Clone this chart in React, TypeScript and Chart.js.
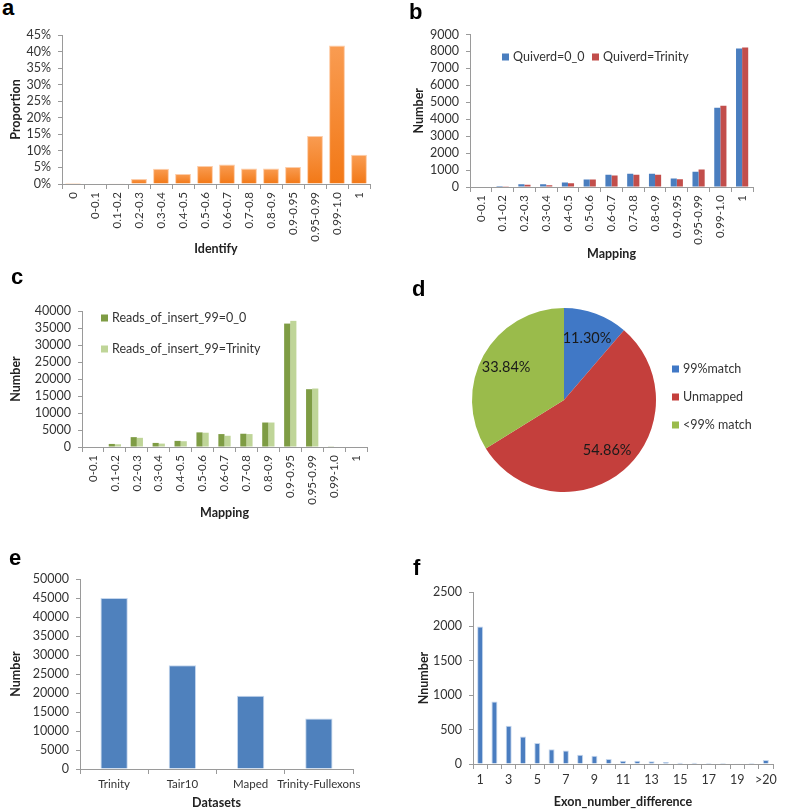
import React, { useEffect, useRef } from 'react';
import { Chart, registerables } from 'chart.js';

Chart.register(...registerables);

// ---------------- data ----------------
const aCategories = ['0', '0-0.1', '0.1-0.2', '0.2-0.3', '0.3-0.4', '0.4-0.5', '0.5-0.6', '0.6-0.7', '0.7-0.8', '0.8-0.9', '0.9-0.95', '0.95-0.99', '0.99-1.0', '1'];
const aProportion = [0.3, 0, 0.2, 1.5, 4.6, 3.0, 5.4, 5.9, 4.7, 4.7, 5.1, 14.5, 41.8, 8.8];

const bCategories = ['0-0.1', '0.1-0.2', '0.2-0.3', '0.3-0.4', '0.4-0.5', '0.5-0.6', '0.6-0.7', '0.7-0.8', '0.8-0.9', '0.9-0.95', '0.95-0.99', '0.99-1.0', '1'];
const bQuiverd00 = [0, 60, 160, 160, 260, 440, 720, 780, 780, 500, 900, 4680, 8180];
const bQuiverdTrinity = [0, 50, 140, 100, 220, 440, 680, 720, 720, 460, 1040, 4790, 8230];

const cCategories = ['0-0.1', '0.1-0.2', '0.2-0.3', '0.3-0.4', '0.4-0.5', '0.5-0.6', '0.6-0.7', '0.7-0.8', '0.8-0.9', '0.9-0.95', '0.95-0.99', '0.99-1.0', '1'];
const cReads00 = [0, 900, 2900, 1200, 1800, 4300, 3800, 3900, 7200, 36300, 17000, 200, 0];
const cReadsTrinity = [0, 800, 2700, 1000, 1700, 4200, 3300, 3800, 7200, 37100, 17200, 150, 0];

const dLabels = ['99%match', 'Unmapped', '<99% match'];
const dValues = [11.30, 54.86, 33.84];

const eCategories = ['Trinity', 'Tair10', 'Maped', 'Trinity-Fullexons'];
const eValues = [45000, 27300, 19300, 13300];

const fCategories = ['1', '2', '3', '4', '5', '6', '7', '8', '9', '10', '11', '12', '13', '14', '15', '16', '17', '18', '19', '20', '>20'];
const fValues = [2000, 910, 555, 400, 304, 215, 195, 135, 120, 72, 48, 48, 39, 30, 19, 19, 14, 14, 10, 14, 58];

// ---------------- style ----------------
const FONT = 'Lato, "Open Sans", sans-serif';
const AXIS = '#9a9a9a';
const TICK = '#333333';
const TICK_SIZE = 12.5;
const XROT_SIZE = 11.5;
const TITLE_SIZE = 12.5;

const boxLegendPlugin = {
  id: 'boxLegend',
  afterDraw(chart: any, _a: any, opts: any) {
    if (!opts || !opts.positions) return;
    const ctx = chart.ctx;
    let items: { text: string; color: string }[];
    if (chart.config.type === 'pie') {
      const ds = chart.data.datasets[0];
      items = chart.data.labels.map((l: string, i: number) => ({ text: l, color: ds.backgroundColor[i] }));
    } else {
      items = chart.data.datasets.map((d: any) => ({ text: d.label, color: d.legendColor || d.backgroundColor }));
    }
    ctx.save();
    ctx.font = `${opts.size || 12}px ${FONT}`;
    ctx.textBaseline = 'middle';
    ctx.textAlign = 'left';
    items.forEach((it, i) => {
      const p = opts.positions[i];
      if (!p) return;
      const box = opts.box || 7;
      ctx.fillStyle = it.color;
      ctx.fillRect(p[0], p[1] - box / 2, box, box);
      ctx.fillStyle = TICK;
      ctx.fillText(it.text, p[0] + box + (opts.gap || 4), p[1]);
    });
    ctx.restore();
  },
};
Chart.register(boxLegendPlugin);

const pieLabelPlugin = {
  id: 'pieLabels',
  afterDatasetsDraw(chart: any) {
    const meta = chart.getDatasetMeta(0);
    const data = chart.data.datasets[0].data;
    const ctx = chart.ctx;
    ctx.save();
    ctx.font = `14.5px ${FONT}`;
    ctx.fillStyle = '#1a1a1a';
    ctx.textAlign = 'center';
    ctx.textBaseline = 'middle';
    meta.data.forEach((arc: any, i: number) => {
      const p = arc.getProps(['x', 'y', 'startAngle', 'endAngle', 'outerRadius'], true);
      const mid = (p.startAngle + p.endAngle) / 2;
      const r = p.outerRadius * 0.72;
      ctx.fillText(Number(data[i]).toFixed(2) + '%', p.x + Math.cos(mid) * r, p.y + Math.sin(mid) * r);
    });
    ctx.restore();
  },
};

interface BarOpts {
  yWidth: number;
  xHeight: number;
  padTop: number;
  padRight: number;
  yMax: number;
  yStep: number;
  yFmt?: (v: number) => string;
  yTitle: string;
  yTitlePad: number;
  xTitle: string;
  xTitlePad: number;
  rotate: boolean;
  xFont?: any;
  xCallback?: (val: any, idx: number) => string;
  legend?: any;
}

function barOptions(p: BarOpts): any {
  const rot = p.rotate ? 90 : 0;
  return {
    responsive: false,
    animation: false,
    layout: { padding: { left: 0, top: p.padTop, right: p.padRight, bottom: 0 } },
    plugins: {
      legend: { display: false },
      tooltip: { enabled: false },
      boxLegend: p.legend || {},
    },
    scales: {
      x: {
        offset: true,
        grid: { display: true, drawOnChartArea: false, drawTicks: true, tickLength: 5, color: AXIS, offset: true },
        border: { display: true, color: AXIS },
        ticks: {
          color: TICK,
          font: p.xFont || { family: FONT, size: p.rotate ? XROT_SIZE : TICK_SIZE },
          maxRotation: rot,
          minRotation: rot,
          autoSkip: false,
          padding: 3,
          ...(p.xCallback ? { callback: p.xCallback } : {}),
        },
        title: {
          display: true,
          text: p.xTitle,
          color: '#222',
          font: { family: FONT, size: TITLE_SIZE, weight: 'bold' },
          padding: { top: 0, bottom: p.xTitlePad },
        },
        afterFit: (s: any) => {
          s.height = p.xHeight;
        },
      },
      y: {
        min: 0,
        max: p.yMax,
        grid: { display: true, drawOnChartArea: false, drawTicks: true, tickLength: 4, color: AXIS },
        border: { display: true, color: AXIS },
        ticks: {
          stepSize: p.yStep,
          autoSkip: false,
          color: TICK,
          font: { family: FONT, size: TICK_SIZE },
          padding: 7,
          callback: (v: any) => (p.yFmt ? p.yFmt(Number(v)) : String(v)),
        },
        title: {
          display: true,
          text: p.yTitle,
          color: '#222',
          font: { family: FONT, size: TITLE_SIZE, weight: 'bold' },
          padding: { top: p.yTitlePad, bottom: 0 },
        },
        afterFit: (s: any) => {
          s.width = p.yWidth;
        },
      },
    },
  };
}

const orangeGradient = (c: any) => {
  const chart = c.chart;
  const ys = chart.scales && chart.scales.y;
  const fallback = '#F68A30';
  if (c.type !== 'data' || !chart.chartArea || !ys) return fallback;
  const top = ys.getPixelForValue(c.parsed.y);
  const base = ys.getPixelForValue(0);
  if (!isFinite(top) || !isFinite(base) || base - top < 1) return fallback;
  const g = chart.ctx.createLinearGradient(0, top, 0, base);
  g.addColorStop(0, '#F99C52');
  g.addColorStop(1, '#F27816');
  return g;
};

// ---------------- configs ----------------
const configA: any = {
  type: 'bar',
  data: {
    labels: aCategories,
    datasets: [
      {
        label: 'Proportion',
        data: aProportion,
        backgroundColor: orangeGradient,
        borderColor: 'rgba(253,200,160,0.9)',
        borderWidth: 1,
        barPercentage: 0.72,
        categoryPercentage: 1,
      },
    ],
  },
  options: barOptions({
    yWidth: 62, xHeight: 76, padTop: 15, padRight: 10,
    yMax: 45, yStep: 5, yFmt: (v) => v + '%',
    yTitle: 'Proportion', yTitlePad: 8,
    xTitle: 'Identify', xTitlePad: 4,
    rotate: true,
  }),
};

const configB: any = {
  type: 'bar',
  data: {
    labels: bCategories,
    datasets: [
      { label: 'Quiverd=0_0', data: bQuiverd00, backgroundColor: '#4A7EBF', barPercentage: 1, categoryPercentage: 0.56 },
      { label: 'Quiverd=Trinity', data: bQuiverdTrinity, backgroundColor: '#C24E4B', barPercentage: 1, categoryPercentage: 0.56 },
    ],
  },
  options: barOptions({
    yWidth: 80, xHeight: 78, padTop: 13, padRight: 27,
    yMax: 9000, yStep: 1000,
    yTitle: 'Number', yTitlePad: 21,
    xTitle: 'Mapping', xTitlePad: 4,
    rotate: true,
    legend: { positions: [[112, 37], [202, 37]], box: 7, gap: 4, size: 12.5 },
  }),
};

const configC: any = {
  type: 'bar',
  data: {
    labels: cCategories,
    datasets: [
      { label: 'Reads_of_insert_99=0_0', data: cReads00, backgroundColor: '#7E9C44', barPercentage: 1, categoryPercentage: 0.56 },
      { label: 'Reads_of_insert_99=Trinity', data: cReadsTrinity, backgroundColor: '#BFD598', barPercentage: 1, categoryPercentage: 0.56 },
    ],
  },
  options: barOptions({
    yWidth: 82, xHeight: 78, padTop: 31, padRight: 18,
    yMax: 40000, yStep: 5000,
    yTitle: 'Number', yTitlePad: 8,
    xTitle: 'Mapping', xTitlePad: 5,
    rotate: true,
    legend: { positions: [[101, 38], [101, 69]], box: 7, gap: 4, size: 12.5 },
  }),
};

const configD: any = {
  type: 'pie',
  data: {
    labels: dLabels,
    datasets: [
      {
        data: dValues,
        backgroundColor: ['#4078C6', '#C43F3C', '#9ABB4B'],
        borderWidth: 0,
      },
    ],
  },
  options: {
    responsive: false,
    animation: false,
    layout: { padding: { left: 52, top: 18, right: 124, bottom: 28 } },
    plugins: {
      legend: { display: false },
      tooltip: { enabled: false },
      boxLegend: { positions: [[252, 79], [252, 107], [252, 135]], box: 7, gap: 4, size: 12.5 },
    },
  },
  plugins: [pieLabelPlugin],
};

const configE: any = {
  type: 'bar',
  data: {
    labels: eCategories,
    datasets: [
      {
        label: 'Number',
        data: eValues,
        backgroundColor: '#4F81BD',
        borderColor: 'rgba(190,210,235,0.9)',
        borderWidth: 1,
        barPercentage: 0.4,
        categoryPercentage: 1,
      },
    ],
  },
  options: barOptions({
    yWidth: 80, xHeight: 41, padTop: 34, padRight: 17,
    yMax: 50000, yStep: 5000,
    yTitle: 'Number', yTitlePad: 8,
    xTitle: 'Datasets', xTitlePad: 0,
    rotate: false,
    xFont: { family: '"Liberation Sans Narrow", Lato, sans-serif', size: 11.5 },
  }),
};

const configF: any = {
  type: 'bar',
  data: {
    labels: fCategories,
    datasets: [
      {
        label: 'Nnumber',
        data: fValues,
        backgroundColor: '#4A7DC0',
        borderColor: 'rgba(190,210,235,0.9)',
        borderWidth: 1,
        barPercentage: 0.42,
        categoryPercentage: 1,
      },
    ],
  },
  options: barOptions({
    yWidth: 78, xHeight: 46, padTop: 32, padRight: 14,
    yMax: 2500, yStep: 500,
    yTitle: 'Nnumber', yTitlePad: 21,
    xTitle: 'Exon_number_difference', xTitlePad: 1,
    rotate: false,
    xCallback: (_v: any, idx: number) => (idx % 2 === 0 ? fCategories[idx] : ''),
  }),
};

// ---------------- components ----------------
function ChartBox(props: { left: number; top: number; width: number; height: number; config: any }) {
  const ref = useRef<HTMLCanvasElement>(null);
  useEffect(() => {
    const chart = new Chart(ref.current as HTMLCanvasElement, props.config);
    return () => chart.destroy();
  }, []);
  return (
    <div style={{ position: 'absolute', left: props.left, top: props.top, width: props.width, height: props.height }}>
      <canvas ref={ref} width={props.width} height={props.height} style={{ display: 'block' }} />
    </div>
  );
}

function Letter(props: { ch: string; left: number; top: number }) {
  return (
    <div
      style={{
        position: 'absolute',
        left: props.left,
        top: props.top,
        font: 'bold 22px "Liberation Sans", Arial, sans-serif',
        lineHeight: '22px',
        color: '#000',
      }}
    >
      {props.ch}
    </div>
  );
}

export default function App() {
  return (
    <div style={{ position: 'absolute', left: 0, top: 0, width: 787, height: 810, background: '#fff', overflow: 'hidden' }}>
      <ChartBox left={0} top={20} width={380} height={240} config={configA} />
      <ChartBox left={390} top={20} width={390} height={245} config={configB} />
      <ChartBox left={0} top={280} width={385} height={245} config={configC} />
      <ChartBox left={420} top={290} width={360} height={230} config={configD} />
      <ChartBox left={0} top={545} width={370} height={265} config={configE} />
      <ChartBox left={395} top={560} width={392} height={250} config={configF} />
      <Letter ch="a" left={2} top={-3} />
      <Letter ch="b" left={409} top={1} />
      <Letter ch="c" left={11} top={266} />
      <Letter ch="d" left={412} top={278} />
      <Letter ch="e" left={9} top={547} />
      <Letter ch="f" left={413} top={557} />
    </div>
  );
}
